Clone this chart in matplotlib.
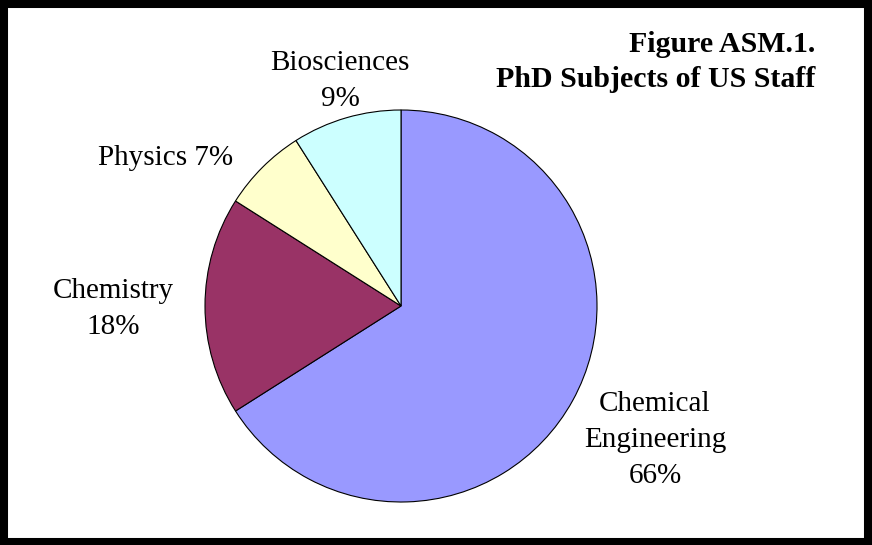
import matplotlib.pyplot as plt
from matplotlib.patches import Rectangle

plt.rcParams['font.family'] = ['Liberation Serif', 'DejaVu Serif']

subjects = ["Chemical\nEngineering", "Chemistry", "Physics", "Biosciences"]
shares = [66, 18, 7, 9]
colors = ["#9999FF", "#993366", "#FFFFCC", "#CCFFFF"]

# label positions in data units (pie radius = 1)
label_pos = [(1.296, -0.684), (-1.469, -0.015), (-1.199, 0.755), (-0.311, 1.148)]
label_text = ["Chemical\nEngineering\n66%", "Chemistry\n18%", "Physics 7%", "Biosciences\n9%"]

fig = plt.figure(figsize=(8.72, 5.45), dpi=100)
fig.patch.set_facecolor("white")

ax = fig.add_axes([196 / 872 + 9 / 872, 43 / 545, 392 / 872, 392 / 545])
ax.pie(shares, colors=colors, startangle=90, counterclock=False,
       radius=1, wedgeprops=dict(edgecolor="black", linewidth=0.8))
ax.set_xlim(-1, 1)
ax.set_ylim(-1, 1)
ax.set_aspect("equal")
ax.axis("off")

for (x, y), t in zip(label_pos, label_text):
    ax.text(x, y, t, ha="center", va="center", fontsize=21, linespacing=1.5,
            clip_on=False)

fig.text(815 / 872, 1 - 45 / 545, "Figure ASM.1.", ha="right", va="center",
         fontsize=21.5, fontweight="bold")
fig.text(815 / 872, 1 - 79 / 545, "PhD Subjects of US Staff", ha="right", va="center",
         fontsize=21.5, fontweight="bold")

# thick black frame around the whole figure
fig.patches.append(Rectangle((4 / 872, 3.5 / 545), 864 / 872, 538 / 545,
                             transform=fig.transFigure, fill=False,
                             edgecolor="black", linewidth=5.8))

fig.savefig("out.png", dpi=100)
